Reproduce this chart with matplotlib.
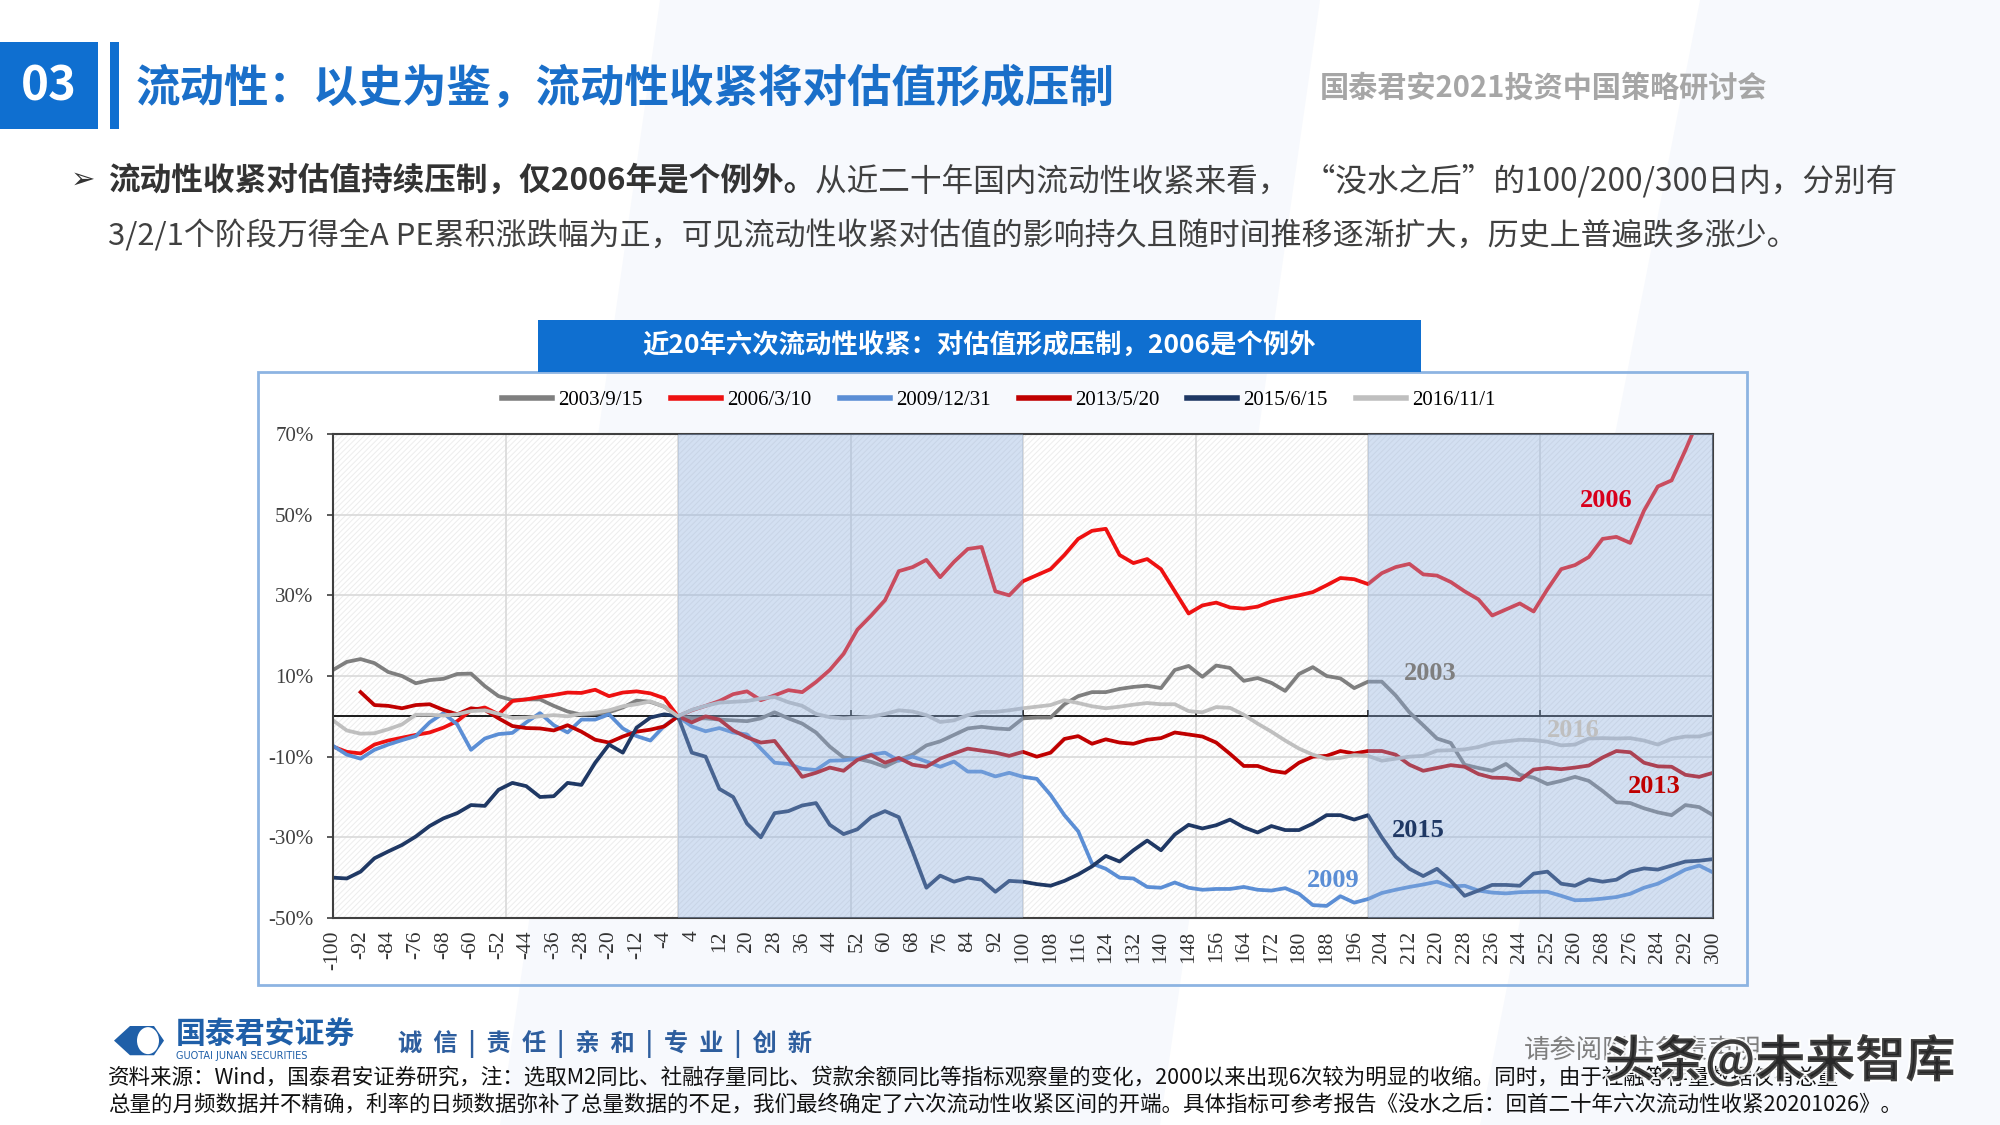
import numpy as np
import matplotlib
matplotlib.use("Agg")
import matplotlib.pyplot as plt
from matplotlib.patches import Rectangle, Polygon, Ellipse
from matplotlib.lines import Line2D
import matplotlib.patheffects as pe

plt.rcParams['font.family'] = ['Noto Sans CJK SC', 'DejaVu Sans']
plt.rcParams['hatch.linewidth'] = 0.7
plt.rcParams['axes.unicode_minus'] = False

# ---------------- data ----------------
days = np.arange(-100, 301, 4)
series_names = ['2003/9/15', '2006/3/10', '2009/12/31', '2013/5/20', '2015/6/15', '2016/11/1']
series_colors = ['#7F7F7F', '#EE1111', '#5B8ED5', '#C00000', '#1F3864', '#BFBFBF']
end_labels = ['2003', '2006', '2009', '2013', '2015', '2016']

nan = np.nan
s2003 = [11.5, 13.5, 14.2, 13.2, 11.0, 10.0, 8.2, 9.0, 9.3, 10.5, 10.6, 7.5, 5.0, 4.0, 4.2, 4.2, 2.6, 1.2, 0.4, 0.6, 1.0, 2.2, 3.9, 3.6, 2.4,
         0.0,
         -0.5, -0.5, -0.8, -1.0, -1.2, -0.5, 1.0, -0.5, -1.8, -4.0, -7.5, -10.2, -10.5, -11.3, -12.5, -10.8, -9.5, -7.2, -6.2, -4.6, -3.0, -2.6, -3.0, -3.2, -0.5,
         -0.3, -0.3, 3.0, 5.0, 6.0, 6.0, 6.8, 7.3, 7.6, 7.0, 11.5, 12.5, 9.8, 12.6, 12.0, 8.8, 9.5, 8.3, 6.3, 10.5,
         12.2, 10.0, 9.4, 7.0, 8.6, 8.6, 5.2, 1.0, -2.2, -5.5, -6.6, -12.0, -12.8, -13.5, -11.8, -14.5, -15.2, -16.8, -16.0, -15.0,
         -16.0, -18.5, -21.3, -21.5, -22.8, -23.8, -24.5, -22.0, -22.5, -24.5]
s2006 = [-7.5, -8.8, -9.2, -7.0, -6.0, -5.3, -4.6, -4.0, -2.8, -1.2, 1.5, 2.2, 0.5, 3.8, 4.2, 4.8, 5.3, 5.9, 5.8, 6.6, 5.0, 5.9, 6.2, 5.7, 4.5,
         0.0,
         1.5, 2.6, 3.8, 5.5, 6.2, 4.0, 5.2, 6.5, 6.0, 8.5, 11.5, 15.5, 21.5, 25.0, 28.8, 36.0, 37.0, 38.8, 34.5, 38.3, 41.5, 42.0, 31.0, 30.0, 33.5,
         35.0, 36.5, 40.0, 44.0, 46.0, 46.5, 40.0, 38.0, 39.0, 36.5, 31.0, 25.5, 27.5, 28.2, 27.0, 26.7, 27.2, 28.5, 29.3, 30.0,
         30.8, 32.5, 34.3, 34.0, 32.8, 35.5, 37.0, 37.8, 35.2, 34.9, 33.3, 31.0, 29.0, 25.0, 26.5, 28.0, 26.0, 31.5, 36.5, 37.5,
         39.5, 44.0, 44.5, 43.0, 51.0, 57.0, 58.5, 66.0, 74.0, 78.0]
s2009 = [-7.3, -9.5, -10.5, -8.3, -7.0, -5.9, -4.9, -1.5, 0.8, -2.0, -8.3, -5.5, -4.4, -4.1, -1.5, 0.8, -2.2, -4.0, -0.8, -0.8, 0.5, -3.0, -4.9, -6.0, -2.4,
         0.0,
         -2.5, -3.7, -2.9, -4.0, -4.5, -8.0, -11.5, -11.8, -13.0, -13.3, -11.0, -10.9, -10.5, -9.5, -9.0, -11.0, -10.0, -11.2, -12.5, -11.2, -13.7, -13.7, -14.9, -14.0, -15.0,
         -15.5, -19.5, -24.5, -28.5, -36.5, -37.8, -40.0, -40.2, -42.3, -42.5, -41.2, -42.5, -43.0, -42.8, -42.8, -42.3, -43.0, -43.2, -42.6, -44.0,
         -46.8, -47.0, -44.6, -46.2, -45.3, -43.8, -43.0, -42.3, -41.7, -41.0, -42.2, -42.0, -43.2, -43.7, -43.9, -43.6, -43.5, -43.5, -44.5, -45.6,
         -45.5, -45.2, -44.8, -44.0, -42.5, -41.5, -39.8, -38.0, -37.0, -38.7]
s2013 = [nan, nan, 6.0, 2.8, 2.6, 2.0, 2.8, 3.0, 1.6, 0.5, 2.0, 1.6, -0.5, -2.4, -2.9, -3.0, -3.5, -2.2, -3.8, -5.8, -6.5, -5.0, -3.8, -3.3, -2.5,
         0.0,
         -1.5, 0.0, -0.8, -3.5, -5.2, -6.5, -6.1, -10.5, -15.0, -14.0, -12.7, -13.5, -10.8, -9.6, -11.5, -10.3, -12.0, -12.5, -10.5, -9.2, -8.0, -8.5, -9.0, -9.8, -8.8,
         -10.0, -9.0, -5.6, -4.9, -6.8, -5.7, -6.5, -6.8, -5.8, -5.4, -4.0, -4.5, -5.0, -6.5, -9.3, -12.3, -12.3, -13.5, -14.0, -11.5,
         -10.0, -9.8, -8.6, -9.2, -8.6, -8.6, -9.5, -12.0, -13.5, -12.8, -12.1, -12.5, -14.3, -15.2, -15.3, -15.8, -13.2, -12.8, -13.1, -12.7,
         -12.2, -10.2, -8.6, -8.9, -11.5, -12.4, -12.5, -14.5, -15.0, -14.0]
s2015 = [-40.0, -40.2, -38.5, -35.2, -33.5, -31.9, -29.8, -27.2, -25.3, -24.0, -22.0, -22.2, -18.2, -16.5, -17.3, -20.0, -19.8, -16.5, -17.0, -11.5, -7.0, -9.0, -2.8, -0.3, 0.5,
         0.0,
         -9.0, -10.0, -18.0, -20.0, -26.6, -30.0, -24.0, -23.5, -22.1, -21.5, -26.9, -29.2, -28.0, -25.0, -23.5, -25.0, -33.5, -42.5, -39.5, -41.0, -40.0, -40.5, -43.5, -40.8, -41.0,
         -41.6, -42.0, -40.8, -39.2, -37.2, -34.6, -36.0, -33.2, -30.8, -33.2, -29.3, -26.9, -27.8, -27.0, -25.6, -27.5, -28.8, -27.2, -28.2, -28.2,
         -26.6, -24.5, -24.5, -25.6, -24.5, -30.0, -34.8, -37.8, -39.6, -37.8, -40.8, -44.5, -43.2, -41.8, -41.8, -42.0, -39.0, -38.5, -41.5, -42.0,
         -40.4, -41.0, -40.5, -38.5, -37.7, -38.0, -37.0, -36.0, -35.8, -35.4]
s2016 = [-1.0, -3.5, -4.3, -4.2, -3.2, -2.0, 0.4, 0.4, 0.2, 0.5, 1.3, 1.5, 0.6, -0.4, -0.3, 0.0, 0.3, 0.0, 0.6, 0.9, 1.5, 2.5, 3.0, 3.7, 2.4,
         0.0,
         1.6, 2.6, 3.4, 3.6, 3.8, 4.4, 4.8, 3.5, 2.6, 0.6, -0.2, -0.5, -0.3, -0.1, 0.6, 1.5, 1.2, 0.3, -1.4, -1.0, 0.3, 1.1, 1.1, 1.5, 2.0,
         2.4, 2.8, 4.0, 3.3, 2.5, 2.0, 2.4, 2.9, 3.3, 3.0, 3.0, 1.3, 1.0, 2.3, 2.1, 0.4, -1.8, -3.8, -6.0, -8.0,
         -9.5, -10.5, -10.3, -9.6, -9.8, -11.0, -10.5, -10.0, -9.8, -8.5, -8.4, -8.2, -7.6, -6.6, -6.2, -5.8, -5.9, -6.3, -7.2, -7.0,
         -5.5, -5.4, -5.5, -5.4, -6.0, -7.0, -5.6, -5.0, -5.0, -4.1]

series_values = [s2003, s2006, s2009, s2013, s2015, s2016]
y_ticks = [-50, -30, -10, 10, 30, 50, 70]
shade_spans = [(0, 100), (200, 300)]

# ---------------- figure ----------------
fig = plt.figure(figsize=(20, 11.25), dpi=100)
fig.patch.set_facecolor('white')

# faint background shapes
for pts in [[(0.33, 1.0), (0.66, 1.0), (0.58, 0.0), (0.25, 0.0)],
            [(0.85, 1.0), (1.0, 1.0), (1.0, 0.0), (0.74, 0.0)]]:
    fig.add_artist(Polygon(pts, closed=True, transform=fig.transFigure,
                           facecolor='#F7F9FD', edgecolor='none', zorder=-10))

# header
fig.add_artist(Rectangle((0.0, 0.8853), 0.049, 0.0773, transform=fig.transFigure,
                         facecolor='#0F6FD0', edgecolor='none'))
fig.text(0.0245, 0.9235, '03', color='white', fontsize=34, fontweight='bold',
         ha='center', va='center')
fig.add_artist(Rectangle((0.055, 0.8853), 0.0045, 0.0773, transform=fig.transFigure,
                         facecolor='#0F6FD0', edgecolor='none'))
fig.text(0.068, 0.921, '流动性：以史为鉴，流动性收紧将对估值形成压制', color='#1A6FC9',
         fontsize=32, fontweight='bold', ha='left', va='center')
fig.text(0.66, 0.922, '国泰君安2021投资中国策略研讨会', color='#A6A6A6',
         fontsize=21, fontweight='bold', ha='left', va='center')

# bullet text
fig.text(0.0355, 0.840, '➢', fontsize=21, color='#333333', ha='left', va='center',
         family=['DejaVu Sans'])
t1 = fig.text(0.054, 0.839, '流动性收紧对估值持续压制，仅2006年是个例外。', fontsize=22.8,
              fontweight='bold', color='#333333', ha='left', va='center')
fig.canvas.draw()
r = fig.canvas.get_renderer()
x1 = fig.transFigure.inverted().transform(t1.get_window_extent(r))[1][0]
fig.text(x1, 0.839, '从近二十年国内流动性收紧来看，  “没水之后”的100/200/300日内，分别有',
         fontsize=22.8, color='#404040', ha='left', va='center')
fig.text(0.054, 0.790, '3/2/1个阶段万得全A PE累积涨跌幅为正，可见流动性收紧对估值的影响持久且随时间推移逐渐扩大，历史上普遍跌多涨少。',
         fontsize=22.3, color='#404040', ha='left', va='center')

# chart frame and title box
fig.add_artist(Rectangle((0.129, 0.1244), 0.7445, 0.5449, transform=fig.transFigure,
                         fill=False, edgecolor='#8DB4E2', lw=2))
fig.add_artist(Rectangle((0.269, 0.6693), 0.4415, 0.0462, transform=fig.transFigure,
                         facecolor='#0F6FD0', edgecolor='none'))
fig.text(0.4898, 0.6924, '近20年六次流动性收紧：对估值形成压制，2006是个例外', color='white',
         fontsize=19, fontweight='bold', ha='center', va='center')

# axes
ax = fig.add_axes([0.1665, 0.184, 0.69, 0.4302])
ax.set_xlim(-100, 300)
ax.set_ylim(-50, 70)
ax.set_facecolor('white')
ax.add_patch(Rectangle((-100, -50), 400, 120, facecolor='none', edgecolor='#EDEDED',
                       hatch='//////', lw=0, zorder=0.5))
for yv in y_ticks:
    ax.axhline(yv, color='#D9D9D9', lw=1.2, zorder=1)
for xv in np.arange(-50, 300, 50):
    ax.axvline(xv, color='#D9D9D9', lw=1.2, zorder=1)
ax.axhline(0, color='#1A1A1A', lw=1.4, zorder=1.8)
ax.vlines(np.arange(50, 301, 50), 0, 1.6, color='#1A1A1A', lw=1.2, zorder=1.8)

for vals, c in zip(series_values, series_colors):
    ax.plot(days, vals, color=c, lw=2.7, zorder=2)

for a, b in shade_spans:
    ax.axvspan(a, b, facecolor='#8DAEDD', alpha=0.38, lw=0, zorder=3)

label_pos = {'2006': (269, 53.5), '2003': (218, 10.7), '2016': (259.5, -3.4),
             '2013': (283, -17.4), '2015': (214.5, -28.3), '2009': (190, -40.7)}
label_colors = {'2006': '#D8001C', '2003': '#7F7F7F', '2016': '#BFBFBF',
                '2013': '#C00000', '2015': '#1F3864', '2009': '#5B8ED5'}
for lab in end_labels:
    x, y = label_pos[lab]
    ax.text(x, y, lab, color=label_colors[lab], fontsize=19, fontweight='bold',
            family=['Liberation Serif'], ha='center', va='center', zorder=5)

for side in ['left', 'bottom', 'top', 'right']:
    ax.spines[side].set_color('#404040')
    ax.spines[side].set_linewidth(1.5)

ax.set_yticks(y_ticks)
ax.set_yticklabels([f'{v}%' for v in y_ticks])
ax.set_xticks(np.arange(-100, 301, 8))
ax.set_xticklabels([str(v) for v in np.arange(-100, 301, 8)], rotation=90)
ax.tick_params(axis='y', length=4, width=1.2, color='#404040', pad=10,
               labelsize=15, labelcolor='#404040')
ax.tick_params(axis='x', length=0, pad=9, labelsize=15.5, labelcolor='#333333')
for t in ax.get_xticklabels() + ax.get_yticklabels():
    t.set_family(['Liberation Serif'])

handles = [Line2D([0], [0], color=c, lw=4) for c in series_colors]
fig.legend(handles, series_names, loc='center', bbox_to_anchor=(0.4995, 0.6444), ncol=6,
           frameon=False, prop={'family': 'Liberation Serif', 'size': 15},
           handlelength=2.4, handletextpad=0.3, columnspacing=1.35)

# footer
fig.add_artist(Polygon([(0.057, 0.075), (0.065, 0.088), (0.077, 0.088), (0.082, 0.075),
                        (0.077, 0.062), (0.065, 0.062)], closed=True, transform=fig.transFigure,
                       facecolor='#1F5FA8', edgecolor='none'))
fig.add_artist(Ellipse((0.074, 0.075), 0.011, 0.024, transform=fig.transFigure,
                       facecolor='white', edgecolor='none'))
fig.text(0.088, 0.0805, '国泰君安证券', color='#1F5FA8', fontsize=21.5, fontweight='bold',
         ha='left', va='center')
fig.text(0.088, 0.0615, 'GUOTAI JUNAN SECURITIES', color='#1F5FA8', fontsize=7,
         ha='left', va='center', family=['DejaVu Sans'])
fig.text(0.199, 0.0725, '诚  信  |  责  任  |  亲  和  |  专  业  |  创  新', color='#2E5E9E',
         fontsize=17.5, fontweight='bold', ha='left', va='center')
fig.text(0.762, 0.0665, '请参阅附注免责声明', color='#7F7F7F', fontsize=19,
         ha='left', va='center')
fig.text(0.054, 0.0418, '资料来源：Wind，国泰君安证券研究，注：选取M2同比、社融存量同比、贷款余额同比等指标观察量的变化，2000以来出现6次较为明显的收缩。同时，由于社融等存量数据仅有总量',
         color='#111111', fontsize=15.5, ha='left', va='center')
fig.text(0.054, 0.0178, '总量的月频数据并不精确，利率的日频数据弥补了总量数据的不足，我们最终确定了六次流动性收紧区间的开端。具体指标可参考报告《没水之后：回首二十年六次流动性收紧20201026》。',
         color='#111111', fontsize=15.5, ha='left', va='center')
fig.text(0.8025, 0.057, '头条@未来智库', color='#222222', fontsize=36, fontweight='bold',
         ha='left', va='center', alpha=0.85,
         path_effects=[pe.withStroke(linewidth=3, foreground='white')])

fig.savefig('out.png', dpi=100)
